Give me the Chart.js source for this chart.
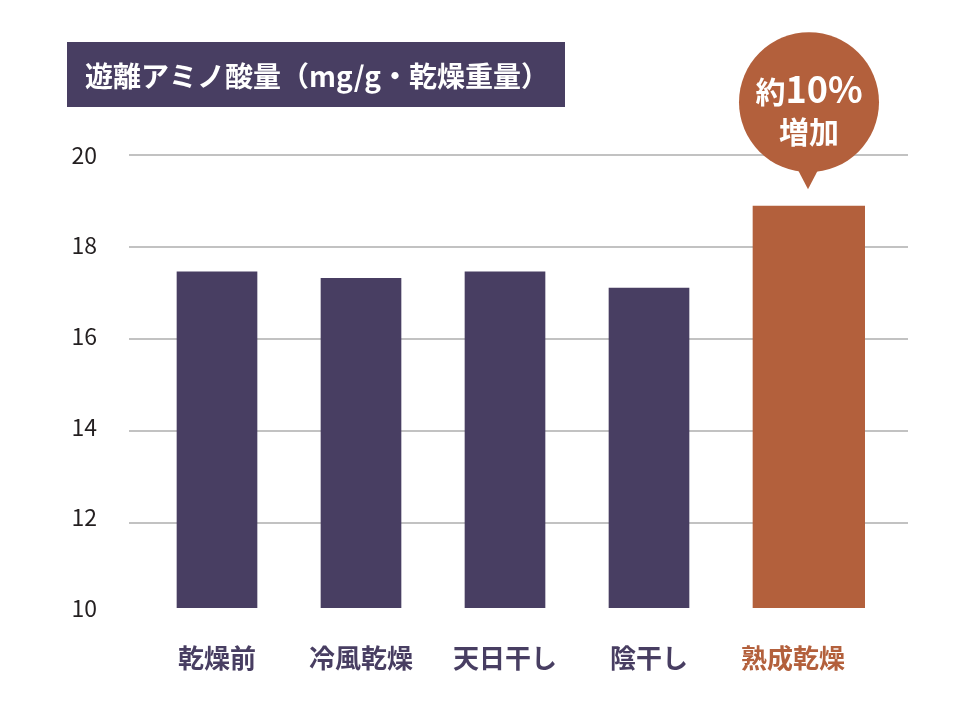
<!DOCTYPE html>
<html lang="ja">
<head>
<meta charset="utf-8">
<title>遊離アミノ酸量</title>
<script src="https://cdn.jsdelivr.net/npm/chart.js@4"></script>
<style>
body { margin: 0; background: #fff; }
canvas { display: block; }
</style>
</head>
<body>
<canvas id="myChart" width="976" height="714"></canvas>
<script>
const categories = ['乾燥前', '冷風乾燥', '天日干し', '陰干し', '熟成乾燥'];
const values = [17.42, 17.28, 17.42, 17.06, 18.87];
const yTicks = [10, 12, 14, 16, 18, 20];
const gridTicks = [12, 14, 16, 18, 20];
const highlight = 4; // 熟成乾燥
const titleText = '遊離アミノ酸量（mg/g・乾燥重量）';
const calloutPrefix = '約';
const calloutValue = '10%';
const calloutText = '増加';

const purple = '#483e62';
const orange = '#b3603c';
const family = "'Noto Sans CJK JP', 'Noto Sans', sans-serif";
const gridMin = 10.16; // grid lines sit on a slightly different scale in the original

const ctx = document.getElementById('myChart');

// title box, wide highlighted bar and the callout bubble
const decorations = {
    id: 'decorations',
    afterDatasetsUpdate: function(chart) {
        const normal = chart.getDatasetMeta(0).data[0].width;
        const bar = chart.getDatasetMeta(1).data[highlight];
        bar.x += (bar.width - normal) / 2;
    },
    beforeDraw: function(chart) {
        const c = chart.ctx;
        c.save();
        c.fillStyle = purple;
        c.fillRect(67, 42, 498, 65);
        c.fillStyle = '#fff';
        c.font = 'bold 28px ' + family;
        c.textBaseline = 'middle';
        c.fillText(titleText, 85, 76);
        c.restore();
    },
    afterDatasetsDraw: function(chart) {
        const bar = chart.getDatasetMeta(1).data[highlight];
        const c = chart.ctx;
        const cx = bar.x;
        const cy = bar.y - 104;
        c.save();
        c.fillStyle = orange;
        c.beginPath();
        c.arc(cx, cy, 70, 0, Math.PI * 2);
        c.fill();
        c.beginPath();
        c.moveTo(cx - 14, bar.y - 42);
        c.lineTo(cx + 12, bar.y - 42);
        c.lineTo(cx - 1, bar.y - 17);
        c.closePath();
        c.fill();

        c.fillStyle = '#fff';
        c.textBaseline = 'alphabetic';
        c.textAlign = 'left';
        c.font = 'bold 30px ' + family;
        const w1 = c.measureText(calloutPrefix).width;
        c.font = 'bold 36px ' + family;
        const w2 = c.measureText(calloutValue).width;
        let x = cx - (w1 + w2) / 2;
        c.font = 'bold 30px ' + family;
        c.fillText(calloutPrefix, x, cy + 1);
        c.font = 'bold 36px ' + family;
        c.fillText(calloutValue, x + w1, cy + 1);
        c.textAlign = 'center';
        c.textBaseline = 'middle';
        c.font = 'bold 30px ' + family;
        c.fillText(calloutText, cx, cy + 29);
        c.restore();
    }
};

function setTicks(list) {
    return function(scale) {
        scale.ticks = list.map(v => ({ value: v }));
    };
}

new Chart(ctx, {
    type: 'bar',
    data: {
        labels: categories,
        datasets: [{
            data: values.map((v, i) => i === highlight ? null : v),
            backgroundColor: purple,
            barThickness: 80,
            grouped: false,
            yAxisID: 'y'
        }, {
            data: values.map((v, i) => i === highlight ? v : null),
            backgroundColor: orange,
            barThickness: 112,
            grouped: false,
            yAxisID: 'y'
        }]
    },
    options: {
        responsive: false,
        animation: false,
        devicePixelRatio: 1,
        layout: { padding: { top: 155, left: 20, right: 68, bottom: 38 } },
        plugins: {
            legend: { display: false },
            tooltip: { enabled: false }
        },
        scales: {
            x: {
                offset: true,
                afterFit: function(scale) { scale.height = 68; },
                grid: { display: false, drawTicks: false },
                border: { display: false },
                ticks: {
                    padding: 35,
                    color: c => c.index === highlight ? orange : purple,
                    font: { family: family, size: 26, weight: 'bold' }
                }
            },
            y: {
                type: 'linear',
                position: 'left',
                weight: 1,
                min: 10,
                max: 20,
                afterBuildTicks: setTicks(yTicks),
                afterFit: function(scale) { scale.width = 109; },
                grid: { display: false, drawTicks: false },
                border: { display: false },
                ticks: { padding: 32, color: '#231f20', font: { family: family, size: 23 } }
            },
            yGrid: {
                type: 'linear',
                position: 'left',
                weight: 0,
                min: gridMin,
                max: 20,
                afterBuildTicks: setTicks(gridTicks),
                grid: { color: '#c2c2c2', lineWidth: 2, tickLength: 16 },
                border: { display: false },
                ticks: { display: false }
            },
            yGridR: {
                type: 'linear',
                position: 'right',
                min: gridMin,
                max: 20,
                afterBuildTicks: setTicks(gridTicks),
                grid: { color: '#c2c2c2', lineWidth: 2, tickLength: 43, drawOnChartArea: false },
                border: { display: false },
                ticks: { display: false }
            }
        }
    },
    plugins: [decorations]
});
</script>
</body>
</html>
